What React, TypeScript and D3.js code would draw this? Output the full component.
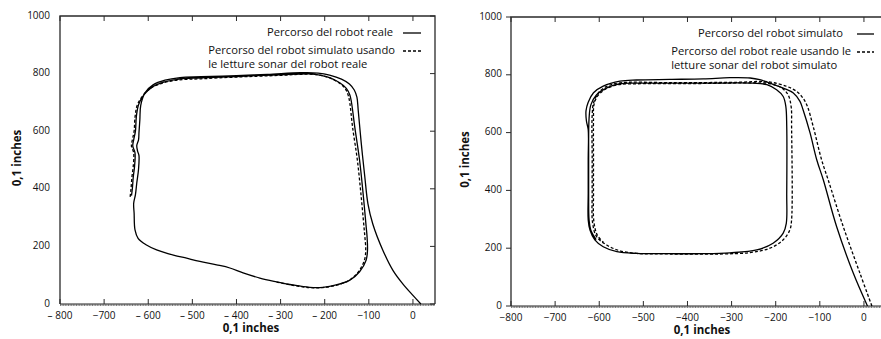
import React from "react";
import * as d3 from "d3";

type Pt = [number, number];

// Tick values and labels
const xTicks = [-800, -700, -600, -500, -400, -300, -200, -100, 0];
const xLabelsLeft = ["– 800", "−700", "– 600", "– 500", "– 400", "– 300", "– 200", "−100", "0"];
const xLabelsRight = ["−800", "−700", "−600", "−500", "−400", "−300", "−200", "−100", "0"];
const yTicks = [0, 200, 400, 600, 800, 1000];

// Left plot: real robot path (solid)
const realPathLeft: Pt[] = [
  [18, 0], [0, 30], [-23, 70], [-45, 116], [-68, 186], [-91, 278], [-102, 348], [-109, 440],
  [-117, 556], [-124, 672], [-127, 718], [-133, 743], [-144, 764], [-162, 781], [-189, 795],
  [-215, 802], [-255, 803], [-330, 797], [-400, 793], [-480, 789], [-528, 786], [-562, 777],
  [-589, 761], [-607, 734], [-617, 690], [-619, 640], [-621, 595], [-622, 570], [-626, 550],
  [-624, 530], [-621, 515], [-622, 468], [-626, 420], [-629, 380], [-633, 350], [-632, 315],
  [-630, 257], [-623, 228], [-604, 205], [-581, 188], [-543, 170], [-513, 159], [-483, 148],
  [-445, 136], [-415, 125], [-385, 108], [-347, 90], [-309, 77], [-272, 66], [-234, 58],
  [-204, 58], [-174, 66], [-143, 83], [-121, 112], [-106, 153], [-103, 188], [-104, 234],
  [-106, 268], [-113, 384], [-121, 500], [-132, 616], [-139, 697], [-143, 726], [-151, 749],
  [-166, 768], [-189, 786], [-211, 795], [-234, 799], [-300, 796], [-400, 790], [-480, 785],
  [-530, 781], [-565, 770], [-592, 752], [-610, 726], [-622, 692], [-627, 650], [-629, 600],
  [-633, 570], [-635, 548], [-630, 525], [-631, 478], [-634, 440], [-636, 400], [-638, 376],
];

// Left plot: simulated robot using the real robot's sonar readings (dashed)
const simPathLeft: Pt[] = [
  [-309, 76], [-272, 65], [-234, 57], [-204, 57], [-174, 65], [-145, 82], [-124, 111],
  [-110, 152], [-107, 188], [-109, 234], [-111, 268], [-118, 384], [-126, 500], [-137, 616],
  [-143, 697], [-147, 726], [-154, 749], [-168, 768], [-190, 786], [-212, 795], [-236, 798],
  [-300, 794], [-400, 788], [-480, 782], [-532, 778], [-568, 767], [-595, 749], [-613, 722],
  [-625, 690], [-630, 648], [-632, 600], [-636, 570], [-638, 548], [-633, 525], [-634, 478],
  [-637, 440], [-639, 400], [-641, 372],
];

// Right plot: simulated robot path (solid)
const simPathRight: Pt[] = [
  [8, 0], [-24, 113], [-62, 275], [-92, 436], [-107, 506], [-122, 598], [-138, 679],
  [-145, 708], [-160, 737], [-183, 754], [-213, 771], [-236, 783], [-258, 789], [-304, 790],
  [-364, 786], [-440, 784], [-515, 782], [-553, 778], [-591, 761], [-613, 738], [-625, 705],
  [-630, 675], [-629, 640], [-625, 610], [-625, 506], [-625, 390], [-625, 298], [-621, 263],
  [-610, 229], [-591, 205], [-560, 188], [-515, 182], [-440, 181], [-364, 181], [-304, 184],
  [-243, 194], [-206, 217], [-183, 252], [-176, 286], [-175, 390], [-175, 621], [-177, 690],
  [-183, 725], [-198, 748], [-220, 766], [-251, 771], [-364, 771], [-515, 771], [-553, 769],
  [-583, 755], [-606, 731], [-619, 696], [-623, 650], [-624, 506], [-624, 390], [-623, 298],
  [-619, 262], [-607, 230],
];

// Right plot: real robot using the simulated robot's sonar readings (dashed)
const realPathRight: Pt[] = [
  [18, 0], [-9, 113], [-47, 275], [-81, 436], [-96, 506], [-115, 621], [-128, 690],
  [-138, 719], [-152, 742], [-175, 760], [-206, 773], [-228, 777], [-289, 774], [-440, 773],
  [-553, 772], [-583, 760], [-602, 737], [-613, 702], [-616, 660], [-616, 506], [-616, 390],
  [-615, 287], [-606, 240], [-583, 211], [-553, 191], [-515, 182], [-440, 180], [-326, 180],
  [-258, 185], [-213, 200], [-183, 229], [-168, 263], [-164, 298], [-164, 621], [-165, 690],
  [-172, 731], [-186, 754], [-213, 769], [-251, 772], [-364, 770], [-515, 769], [-556, 766],
  [-586, 750], [-604, 726], [-612, 696], [-613, 650], [-613, 506], [-613, 390], [-612, 290],
  [-604, 244], [-590, 220],
];

const FONT = "'Open Sans', 'DejaVu Sans', sans-serif";
const LEGEND_SIZE = 11.2;

interface PanelProps {
  left: number;
  top: number;
  bottom: number;
  xLabels: string[];
  solid: Pt[];
  dashed: Pt[];
  legend: { solid: string[]; dashed: string[] };
  solidEnd: number;
  dashedEnd: number;
  sampleEnd: number;
  sampleLen: number;
  outerLeftTicks: boolean;
  yTitleX: number;
}

function Panel(p: PanelProps) {
  const x = d3.scaleLinear().domain([-800, 50]).range([p.left, p.left + 375]);
  const y = d3.scaleLinear().domain([0, 1000]).range([p.bottom, p.top]);
  const line = d3
    .line<Pt>()
    .x((d) => x(d[0]))
    .y((d) => y(d[1]))
    .curve(d3.curveCatmullRom.alpha(0.5));
  const x0 = x.range()[0];
  const x1 = x.range()[1];
  const frame = "#2a2a2a";
  const midY = (p.top + p.bottom) / 2;
  const row1 = p.top + 17;
  const row2 = p.top + 35;
  const row3 = p.top + 49;
  return (
    <g>
      {/* frame */}
      <path
        d={`M${x0},${p.bottom}V${p.top}H${x1}V${p.bottom}`}
        fill="none"
        stroke={frame}
        strokeWidth={1.3}
      />
      {/* bottom axis line */}
      <line x1={x0} x2={x1} y1={p.bottom} y2={p.bottom} stroke="#222" strokeWidth={1.2} />
      <line
        x1={x0}
        x2={x1}
        y1={p.bottom + 1}
        y2={p.bottom + 1}
        stroke="#555"
        strokeWidth={1.4}
        strokeDasharray="1,0.6"
      />
      {/* x ticks */}
      {xTicks.map((t, i) => (
        <g key={"xt" + t}>
          <line x1={x(t)} x2={x(t)} y1={p.top} y2={p.top + 5} stroke={frame} strokeWidth={1} />
          <line x1={x(t)} x2={x(t)} y1={p.bottom} y2={p.bottom - 5} stroke={frame} strokeWidth={1} />
          <text
            x={x(t)}
            y={p.bottom + 12}
            textAnchor="middle"
            dominantBaseline="middle"
            fontFamily={FONT}
            fontSize={10}
            fill="#111"
          >
            {p.xLabels[i]}
          </text>
        </g>
      ))}
      {/* y ticks */}
      {yTicks.map((t) => (
        <g key={"yt" + t}>
          <line x1={x1} x2={x1 - 5} y1={y(t)} y2={y(t)} stroke={frame} strokeWidth={1} />
          {p.outerLeftTicks && (
            <line x1={x0} x2={x0 - 5} y1={y(t)} y2={y(t)} stroke={frame} strokeWidth={1} />
          )}
          <text
            x={x0 - (p.outerLeftTicks ? 9 : 10)}
            y={y(t)}
            textAnchor="end"
            dominantBaseline="middle"
            fontFamily={FONT}
            fontSize={10}
            fill="#111"
          >
            {t}
          </text>
        </g>
      ))}
      {/* axis titles */}
      <text
        x={x0 + 191}
        y={p.bottom + 25}
        textAnchor="middle"
        dominantBaseline="middle"
        fontFamily={FONT}
        fontSize={11.5}
        fontWeight="bold"
        fill="#111"
      >
        0,1 inches
      </text>
      <text
        transform={`translate(${p.yTitleX},${midY - 2}) rotate(-90)`}
        textAnchor="middle"
        dominantBaseline="middle"
        fontFamily={FONT}
        fontSize={11.5}
        fontWeight="bold"
        fill="#111"
      >
        0,1 inches
      </text>
      {/* paths */}
      <path d={line(p.solid) || ""} fill="none" stroke="#000" strokeWidth={1.3} />
      <path
        d={line(p.dashed) || ""}
        fill="none"
        stroke="#000"
        strokeWidth={1.3}
        strokeDasharray="3,2"
      />
      {/* legend */}
      <text
        x={p.solidEnd}
        y={row1}
        textAnchor="end"
        dominantBaseline="middle"
        fontFamily={FONT}
        fontSize={LEGEND_SIZE}
        fill="#111"
      >
        {p.legend.solid[0]}
      </text>
      <line
        x1={p.sampleEnd - p.sampleLen}
        x2={p.sampleEnd}
        y1={row1}
        y2={row1}
        stroke="#000"
        strokeWidth={1.3}
      />
      <text
        x={p.dashedEnd}
        y={row2}
        textAnchor="end"
        dominantBaseline="middle"
        fontFamily={FONT}
        fontSize={LEGEND_SIZE}
        fill="#111"
      >
        {p.legend.dashed[0]}
      </text>
      <line
        x1={p.sampleEnd - p.sampleLen}
        x2={p.sampleEnd}
        y1={row2}
        y2={row2}
        stroke="#000"
        strokeWidth={1.3}
        strokeDasharray="3,2"
      />
      <text
        x={p.dashedEnd}
        y={row3}
        textAnchor="start"
        dominantBaseline="middle"
        fontFamily={FONT}
        fontSize={LEGEND_SIZE}
        fill="#111"
        ref={(el) => {
          // left-align the continuation line with the start of the line above
          if (el && el.previousSibling && el.previousSibling.previousSibling) {
            const prev = el.previousSibling.previousSibling as SVGTextElement;
            const bb = prev.getBBox();
            el.setAttribute("x", String(bb.x));
          }
        }}
      >
        {p.legend.dashed[1]}
      </text>
    </g>
  );
}

export default function App() {
  return (
    <svg
      width={881}
      height={339}
      style={{ position: "absolute", left: 0, top: 0, background: "#fff" }}
    >
      <rect width={881} height={339} fill="#fff" />
      <Panel
        left={60}
        top={16}
        bottom={304}
        xLabels={xLabelsLeft}
        solid={realPathLeft}
        dashed={simPathLeft}
        legend={{
          solid: ["Percorso del robot reale"],
          dashed: ["Percorso del robot simulato usando", "le letture sonar del robot reale"],
        }}
        solidEnd={393}
        dashedEnd={395}
        sampleEnd={421}
        sampleLen={18}
        outerLeftTicks={false}
        yTitleX={18}
      />
      <Panel
        left={511}
        top={17}
        bottom={306}
        xLabels={xLabelsRight}
        solid={simPathRight}
        dashed={realPathRight}
        legend={{
          solid: ["Percorso del robot simulato"],
          dashed: ["Percorso del robot reale usando le", "letture sonar del robot simulato"],
        }}
        solidEnd={843}
        dashedEnd={851}
        sampleEnd={874}
        sampleLen={17}
        outerLeftTicks={true}
        yTitleX={466}
      />
    </svg>
  );
}
